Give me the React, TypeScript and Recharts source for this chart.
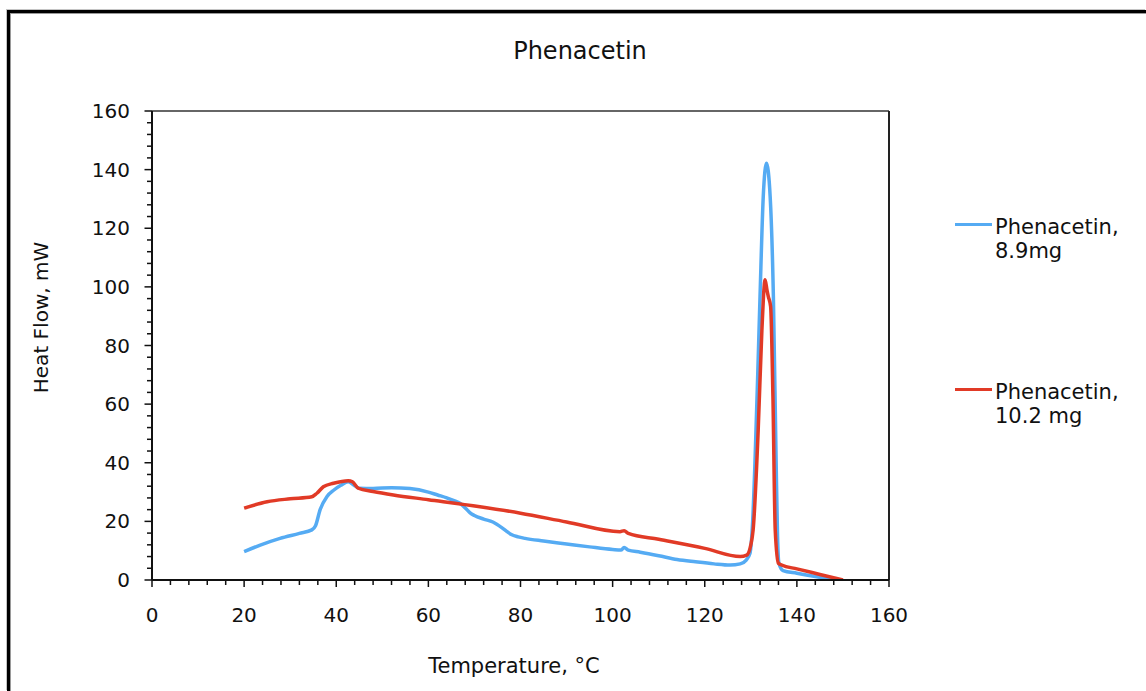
import { LineChart, Line, XAxis, YAxis, ReferenceLine } from "recharts";

const FONT = "'DejaVu Sans', Verdana, sans-serif";
const BLUE = "#55abf3";
const RED = "#e13a26";
const INK = "#111";

const TITLE = "Phenacetin";
const X_LABEL = "Temperature, °C";
const Y_LABEL = "Heat Flow, mW";

// legend text, split the way the original wraps it
const NAME_89 = ["Phenacetin,", "8.9mg"];
const NAME_102 = ["Phenacetin,", "10.2 mg"];

const AXIS_TICKS = [
  0, 4, 8, 12, 16, 20, 24, 28, 32, 36, 40, 44, 48, 52, 56, 60, 64, 68, 72, 76, 80,
  84, 88, 92, 96, 100, 104, 108, 112, 116, 120, 124, 128, 132, 136, 140, 144, 148,
  152, 156, 160,
];
const LABELED_TICKS = [0, 20, 40, 60, 80, 100, 120, 140, 160];

// Phenacetin, 8.9mg
const tempA = [
  20, 23.5, 27.8, 32, 34.7, 35.5, 36.5, 38, 39.5, 41, 42.6, 44, 45, 48, 52, 56, 60,
  62, 64, 66, 67, 68, 69, 70, 72, 74, 76, 77, 78, 79.5, 81, 85, 90, 95, 100, 101.8,
  102.5, 103.4, 106, 110, 114, 118, 122, 125.5, 127.7, 129, 129.8, 130.4, 130.9,
  131.5, 132, 132.7, 133.4, 134.2, 134.9, 135.5, 135.8, 136.1, 137, 140, 144, 148,
];
const flowA = [
  9.7, 11.9, 14.2, 15.9, 17.1, 18.5, 24, 28.5, 30.7, 32.3, 33.5, 32.2, 31.3, 31.2,
  31.5, 31.2, 30, 29, 28, 26.8, 26, 24.6, 23, 22, 20.8, 19.8, 17.8, 16.6, 15.5,
  14.7, 14.2, 13.3, 12.3, 11.3, 10.4, 10.2, 11.1, 10.2, 9.5, 8.3, 7, 6.2, 5.5, 5.1,
  5.5, 6.8, 9, 20, 40, 70, 96.7, 130.8, 142.2, 130.8, 96.7, 40, 15, 5.7, 3.2, 2.3,
  1.2, 0,
];

// Phenacetin, 10.2 mg
const tempB = [
  20, 25, 30, 34.7, 35.8, 37.2, 39.4, 42.6, 43.5, 44.8, 48, 52.4, 60, 71.2, 80, 90,
  101.6, 102.5, 103.4, 110, 120, 127.7, 129.1, 130, 130.5, 131.6, 132.4, 133.1,
  133.5, 133.8, 134.3, 134.8, 135.3, 136, 136.7, 140, 145, 150,
];
const flowB = [
  24.5, 26.7, 27.7, 28.4, 29.6, 31.8, 33, 33.9, 33.5, 31.3, 30.2, 29, 27.4, 25,
  22.8, 19.8, 16.5, 16.8, 15.9, 13.9, 10.8, 8, 8.5, 12, 17, 51, 85, 102.4, 99, 96.7,
  93.3, 62.6, 17, 5.7, 5.1, 3.8, 1.9, 0,
];

const seriesA = tempA.map((t, i) => ({ t, hf: flowA[i] }));
const seriesB = tempB.map((t, i) => ({ t, hf: flowB[i] }));

const legendItems = [
  { lines: NAME_89, color: BLUE, top: 215 },
  { lines: NAME_102, color: RED, top: 380 },
];

function XTick(props: any) {
  const { x, y, payload } = props;
  const major = LABELED_TICKS.includes(payload.value);
  return (
    <g>
      <line x1={x} x2={x} y1={y} y2={y + (major ? 7 : 5)} stroke={INK} strokeWidth={1.5} />
      {major && (
        <text
          x={x}
          y={y + 35}
          textAnchor="middle"
          dominantBaseline="central"
          fontSize={20}
          fontFamily={FONT}
          fill={INK}
        >
          {payload.value}
        </text>
      )}
    </g>
  );
}

function YTick(props: any) {
  const { x, y, payload } = props;
  const major = LABELED_TICKS.includes(payload.value);
  return (
    <g>
      <line x1={x - (major ? 7.5 : 5)} x2={x} y1={y} y2={y} stroke={INK} strokeWidth={1.5} />
      {major && (
        <text
          x={x - 22}
          y={y}
          textAnchor="end"
          dominantBaseline="central"
          fontSize={20}
          fontFamily={FONT}
          fill={INK}
        >
          {payload.value}
        </text>
      )}
    </g>
  );
}

export default function App() {
  return (
    <div
      style={{
        position: "absolute",
        left: 0,
        top: 0,
        width: 1146,
        height: 691,
        overflow: "hidden",
        background: "#fff",
        fontFamily: FONT,
        color: INK,
      }}
    >
      <div
        style={{
          position: "absolute",
          left: 7,
          top: 10,
          right: 0,
          bottom: 0,
          borderLeft: "3px solid #000",
          borderTop: "3px solid #000",
          boxShadow: "inset 1px 1px 0 #9a9a9a, -1px -1px 0 #c4c4c4",
        }}
      />
      <div
        style={{
          position: "absolute",
          left: 480,
          top: 37,
          width: 200,
          textAlign: "center",
          fontSize: 24,
          lineHeight: "28px",
        }}
      >
        {TITLE}
      </div>

      <div style={{ position: "absolute", left: 0, top: 0 }}>
        <LineChart
          width={1146}
          height={691}
          margin={{ top: 111, right: 257, bottom: 51, left: 92 }}
        >
          <XAxis
            type="number"
            dataKey="t"
            domain={[0, 160]}
            ticks={AXIS_TICKS}
            interval={0}
            height={60}
            tickSize={0}
            tickMargin={0}
            tickLine={false}
            tick={<XTick />}
            axisLine={{ stroke: INK, strokeWidth: 2 }}
            allowDataOverflow
            label={{
              content: (p: any) => {
                const vb = p.viewBox;
                return (
                  <text
                    x={vb.x + vb.width / 2 - 6.5}
                    y={vb.y + 93}
                    textAnchor="middle"
                    fontSize={21}
                    fontFamily={FONT}
                    fill={INK}
                  >
                    {X_LABEL}
                  </text>
                );
              },
            }}
          />
          <YAxis
            type="number"
            dataKey="hf"
            domain={[0, 160]}
            ticks={AXIS_TICKS}
            interval={0}
            width={60}
            tickSize={0}
            tickMargin={0}
            tickLine={false}
            tick={<YTick />}
            axisLine={{ stroke: INK, strokeWidth: 2 }}
            allowDataOverflow
            label={{
              content: (p: any) => {
                const vb = p.viewBox;
                const cx = vb.x - 44;
                const cy = vb.y + vb.height / 2 - 28;
                return (
                  <text
                    x={cx}
                    y={cy}
                    transform={`rotate(-90, ${cx}, ${cy})`}
                    textAnchor="middle"
                    fontSize={20}
                    fontFamily={FONT}
                    fill={INK}
                  >
                    {Y_LABEL}
                  </text>
                );
              },
            }}
          />
          <ReferenceLine y={160} stroke="#333" strokeWidth={1.5} />
          <ReferenceLine x={160} stroke="#222" strokeWidth={2} />
          <Line
            data={seriesA}
            dataKey="hf"
            type="monotone"
            stroke={BLUE}
            strokeWidth={3.5}
            dot={false}
            isAnimationActive={false}
          />
          <Line
            data={seriesB}
            dataKey="hf"
            type="monotone"
            stroke={RED}
            strokeWidth={3.5}
            dot={false}
            isAnimationActive={false}
          />
        </LineChart>
      </div>

      {legendItems.map((item) => (
        <div
          key={item.color}
          style={{ position: "absolute", left: 955, top: item.top, display: "flex" }}
        >
          <div
            style={{
              width: 37,
              height: 3,
              marginTop: 7.5,
              background: item.color,
            }}
          />
          <div style={{ marginLeft: 3, fontSize: 21, lineHeight: "24px" }}>
            {item.lines.map((l) => (
              <div key={l}>{l}</div>
            ))}
          </div>
        </div>
      ))}
    </div>
  );
}
